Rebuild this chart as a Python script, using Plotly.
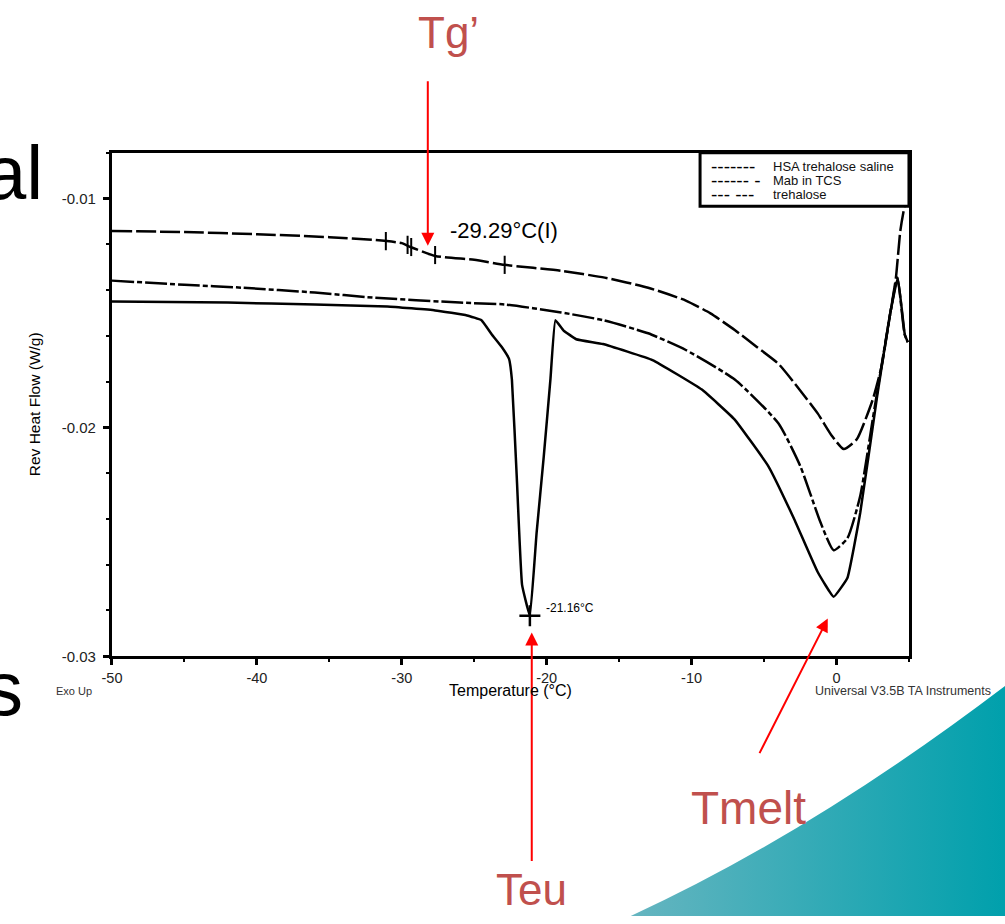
import base64
import plotly.graph_objects as go

W, H = 1005, 924

# ---------------- data ----------------
hsa_T = [-50, -45, -40, -35, -31.8, -30, -29.4, -27.7, -25, -22.9, -19, -16, -13, -10.4, -8.7,
         -7.0, -5.5, -4.0, -2.6, -1.3, -0.3, 0.5, 1.4, 2.5, 3.1, 3.7, 4.1, 4.4, 4.7, 4.95]
hsa_v = [-0.01142, -0.01147, -0.01156, -0.01169, -0.01182, -0.01195, -0.01212, -0.01251, -0.01268,
         -0.0129, -0.01316, -0.01346, -0.0139, -0.01446, -0.01502, -0.01576, -0.01649, -0.01723,
         -0.01831, -0.01939, -0.02039, -0.02095, -0.02052, -0.01879, -0.01736, -0.01506, -0.01346,
         -0.01143, -0.01035, -0.0100]

mab_T = [-50, -45, -41, -36, -32, -26, -22.9, -19, -16.1, -13, -10.4, -7.0, -4.0, -2.5, -1.1,
         -0.2, 0.75, 1.64, 2.5, 3.7, 4.2, 4.7, 4.92]
mab_v = [-0.01359, -0.01377, -0.0139, -0.01411, -0.01433, -0.01455, -0.01463, -0.01498, -0.01532,
         -0.01589, -0.01662, -0.01792, -0.01983, -0.02169, -0.02416, -0.02537, -0.02485, -0.02299,
         -0.01965, -0.01506, -0.01346, -0.01593, -0.01628]

tre_T = [-50, -42, -36, -31, -27.7, -25.5, -24.5, -23.8, -23.1, -22.6, -22.4, -22.06, -21.7,
         -21.16, -20.7, -20.2, -19.74, -19.4, -18.85, -17.96, -16.12, -12.7, -9.29, -7.04, -4.71,
         -2.94, -1.3, -0.2, 0.75, 1.64, 2.8, 3.69, 4.23, 4.71, 4.92]
tre_v = [-0.0145, -0.01455, -0.01463, -0.01472, -0.01489, -0.01511, -0.01532, -0.01593, -0.01649,
         -0.01701, -0.01792, -0.02225, -0.02688, -0.02823, -0.02463, -0.02126, -0.01788, -0.01532,
         -0.01576, -0.01615, -0.01636, -0.01706, -0.01835, -0.01965, -0.02169, -0.02398, -0.02632,
         -0.0274, -0.02658, -0.02372, -0.01866, -0.01506, -0.01346, -0.01593, -0.01628]

tg_marks_T = [-31.1, -29.6, -29.35, -27.7, -22.9]
tg_marks_v = [-0.01186, -0.01203, -0.01212, -0.01247, -0.0129]
teu_T = [-21.16]
teu_v = [-0.02823]

x_tickvals = [-50, -40, -30, -20, -10, 0]
x_ticktext = ["-50", "-40", "-30", "-20", "-10", "0"]
y_tickvals = [-0.03, -0.02, -0.01]
y_ticktext = ["-0.03", "-0.02", "-0.01"]

legend_patterns = ["-------", "------ -", "--- ---"]
legend_labels = ["HSA trehalose saline", "Mab in TCS", "trehalose"]

FONT = "Liberation Sans, Arial, sans-serif"
RED_TXT = "#C0504D"


def px(x):
    return x / W


def py(y):
    return 1 - y / H


fig = go.Figure()
fig.add_trace(go.Scatter(x=hsa_T, y=hsa_v, mode="lines", name=legend_labels[0],
                         line=dict(color="black", width=2.5, dash="20px,4px", shape="spline", smoothing=0.5)))
fig.add_trace(go.Scatter(x=mab_T, y=mab_v, mode="lines", name=legend_labels[1],
                         line=dict(color="black", width=2.5, dash="22px,3px,5px,3px", shape="spline", smoothing=0.5)))
fig.add_trace(go.Scatter(x=tre_T, y=tre_v, mode="lines", name=legend_labels[2],
                         line=dict(color="black", width=2.5, shape="spline", smoothing=0.3)))
fig.add_trace(go.Scatter(x=tg_marks_T, y=tg_marks_v, mode="markers",
                         marker=dict(symbol="line-ns", size=13, line=dict(color="black", width=2))))
fig.add_trace(go.Scatter(x=teu_T, y=teu_v, mode="markers",
                         marker=dict(symbol="cross-thin", size=15, line=dict(color="black", width=2.5))))

# decorative slide swoosh (gradient) as an image
svg = ("<svg xmlns='http://www.w3.org/2000/svg' width='1005' height='924' viewBox='0 0 1005 924'>"
       "<defs><linearGradient id='g' x1='0' x2='1' y1='0' y2='0'>"
       "<stop offset='0' stop-color='#66b5c0'/><stop offset='1' stop-color='#00a0ac'/>"
       "</linearGradient></defs>"
       "<path d='M627,924 Q810,840 1005,692 L1005,924 Z' fill='url(#g)'/></svg>")
src = "data:image/svg+xml;base64," + base64.b64encode(svg.encode()).decode()

ann = []
# slide fragments at the left edge
ann.append(dict(text="al", x=px(35), y=py(174), xanchor="right", yanchor="middle",
                font=dict(size=76, color="black", family=FONT)))
ann.append(dict(text="s", x=px(15), y=py(695), xanchor="right", yanchor="middle",
                font=dict(size=76, color="black", family=FONT)))
# red labels
ann.append(dict(text="Tg’", x=px(443), y=py(33), font=dict(size=44, color=RED_TXT, family=FONT)))
ann.append(dict(text="Teu", x=px(527), y=py(897), font=dict(size=44, color=RED_TXT, family=FONT)))
ann.append(dict(text="Tmelt", x=px(746), y=py(815), font=dict(size=46, color=RED_TXT, family=FONT)))
# red arrows
for tip, tail in [((422, 248), (422, 82)), ((527, 638), (527, 868)), ((826, 624), (757, 760))]:
    ann.append(dict(text="", x=px(tip[0]), y=py(tip[1]), ax=tail[0] - tip[0], ay=tail[1] - tip[1],
                    showarrow=True, arrowhead=2, arrowsize=1.3, arrowwidth=2, arrowcolor="#FF0000",
                    standoff=0, startstandoff=0))
# chart texts
ann.append(dict(text="-29.29°C(I)", x=px(499), y=py(233), font=dict(size=22, color="black", family=FONT)))
ann.append(dict(text="-21.16°C", x=px(566), y=py(613), font=dict(size=12, color="black", family=FONT)))
ann.append(dict(text="Exo Up", x=px(65), y=py(697), font=dict(size=11, color="#333", family=FONT)))
ann.append(dict(text="Universal V3.5B TA Instruments", x=px(902), y=py(697),
                font=dict(size=12.5, color="#333", family=FONT)))
ann.append(dict(text="Temperature (°C)", x=px(506), y=py(697), font=dict(size=16, color="black", family=FONT)))
ann.append(dict(text="Rev Heat Flow (W/g)", x=px(25), y=py(408), textangle=-90,
                font=dict(size=15.5, color="black", family=FONT)))
# legend box contents
for i, (pat, lab) in enumerate(zip(legend_patterns, legend_labels)):
    yy = 168 + 14 * i
    ann.append(dict(text=pat, x=px(706), y=py(yy), xanchor="left", yanchor="middle",
                    font=dict(size=19, color="black", family=FONT)))
    ann.append(dict(text=lab, x=px(769), y=py(yy), xanchor="left", yanchor="middle",
                    font=dict(size=13, color="#111", family=FONT)))

for a in ann:
    a.setdefault("xref", "paper")
    a.setdefault("yref", "paper")
    a.setdefault("showarrow", False)
    a.setdefault("xanchor", "center")
    a.setdefault("yanchor", "middle")

shapes = [dict(type="rect", xref="paper", yref="paper", x0=px(697), x1=px(908), y0=py(208), y1=py(154),
               line=dict(color="black", width=3), fillcolor="white", layer="above")]

fig.update_layout(
    width=W, height=H, margin=dict(l=0, r=0, t=0, b=0, pad=0),
    paper_bgcolor="white", plot_bgcolor="white", showlegend=False,
    font=dict(family=FONT, color="black"),
    images=[dict(source=src, xref="paper", yref="paper", x=0, y=1, sizex=1, sizey=1,
                 xanchor="left", yanchor="top", sizing="stretch", layer="below")],
    annotations=ann, shapes=shapes,
    xaxis=dict(domain=[px(103), px(908)], range=[-50, 5], showgrid=False, zeroline=False,
               showline=True, linecolor="black", linewidth=3, mirror=True,
               ticks="outside", ticklen=6, tickwidth=2.5, tickcolor="black",
               tickvals=x_tickvals, ticktext=x_ticktext, tickfont=dict(size=14.5, color="#222"),
               minor=dict(ticks="outside", ticklen=3, tickwidth=2, tickcolor="black", dtick=5, tick0=-50,
                          showgrid=False)),
    yaxis=dict(domain=[py(662), py(154)], range=[-0.03, -0.008], showgrid=False, zeroline=False,
               showline=True, linecolor="black", linewidth=3, mirror=True,
               ticks="outside", ticklen=6, tickwidth=2.5, tickcolor="black", ticklabelstandoff=4,
               tickvals=y_tickvals, ticktext=y_ticktext, tickfont=dict(size=15, color="#222"),
               minor=dict(ticks="outside", ticklen=3, tickwidth=2, tickcolor="black", dtick=0.002,
                          tick0=-0.03, showgrid=False)),
)

fig.write_html("out.html")
